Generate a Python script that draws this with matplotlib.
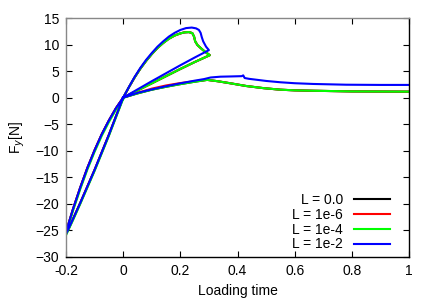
import numpy as np
import matplotlib
matplotlib.use("Agg")
import matplotlib.pyplot as plt

plt.rcParams['font.family'] = ['Liberation Sans', 'DejaVu Sans']

labels = ["L = 0.0", "L = 1e-6", "L = 1e-4", "L = 1e-2"]
colors = ["#000000", "#ff0000", "#00ff00", "#0000ff"]

# compression branches (shared shape)
comp1_x = [-0.2, -0.175, -0.15, -0.125, -0.1, -0.075, -0.05, -0.025, 0.0]
comp1_y = [-25.3, -20.9, -16.9, -13.2, -9.9, -6.9, -4.3, -1.96, 0.0]
comp2_x = [-0.2, -0.175, -0.15, -0.125, -0.1, -0.075, -0.05, -0.025, 0.0]
comp2_y = [-25.7, -22.8, -19.8, -16.7, -13.6, -10.3, -7.0, -3.5, 0.0]

# upper loop, L = 1e-2
loop_blue_x = [0.0, 0.02, 0.04, 0.06, 0.08, 0.10, 0.12, 0.14, 0.16, 0.18, 0.20, 0.22, 0.24,
               0.255, 0.265, 0.271, 0.275, 0.28, 0.29, 0.30,
               0.25, 0.2, 0.15, 0.1, 0.05, 0.0]
loop_blue_y = [0.0, 2.0, 3.9, 5.6, 7.1, 8.4, 9.6, 10.6, 11.5, 12.2, 12.75, 13.1, 13.2,
               13.05, 12.75, 12.2, 11.4, 10.6, 9.6, 8.95,
               7.55, 6.1, 4.6, 3.1, 1.55, 0.0]
# upper loop, L = 0.0 / 1e-6 / 1e-4
loop_green_x = [0.0, 0.02, 0.04, 0.06, 0.08, 0.10, 0.12, 0.14, 0.16, 0.18, 0.20, 0.215, 0.23,
                0.242, 0.248, 0.252, 0.26, 0.27, 0.285, 0.303,
                0.25, 0.2, 0.15, 0.1, 0.05, 0.0]
loop_green_y = [0.0, 1.95, 3.8, 5.45, 6.9, 8.2, 9.35, 10.3, 11.1, 11.7, 12.1, 12.3, 12.35,
                12.15, 11.5, 10.6, 9.9, 9.4, 8.7, 8.0,
                6.7, 5.4, 4.05, 2.7, 1.35, 0.0]

# lower branch
low_blue_x = [0.0, 0.05, 0.1, 0.143, 0.2, 0.25, 0.283, 0.306, 0.34, 0.38, 0.415, 0.42, 0.425,
              0.44, 0.5, 0.55, 0.6, 0.665, 0.78, 0.9, 1.0]
low_blue_y = [0.0, 0.9, 1.55, 2.07, 2.7, 3.2, 3.5, 3.8, 3.95, 4.0, 4.05, 4.2, 3.7,
              3.55, 3.15, 2.9, 2.72, 2.58, 2.44, 2.4, 2.4]
low_green_x = [0.0, 0.05, 0.1, 0.15, 0.2, 0.25, 0.294, 0.33, 0.376, 0.43, 0.49, 0.55, 0.6,
               0.666, 0.8, 1.0]
low_green_y = [0.0, 0.8, 1.5, 2.05, 2.55, 3.0, 3.35, 3.1, 2.7, 2.2, 1.8, 1.5, 1.38,
               1.3, 1.18, 1.13]
low_red_x = [0.0, 0.05, 0.1, 0.15, 0.2, 0.25, 0.294, 0.33, 0.376, 0.43, 0.49, 0.55, 0.6,
             0.666, 0.8, 1.0]
low_red_y = [0.0, 0.9, 1.7, 2.3, 2.75, 3.1, 3.35, 3.1, 2.7, 2.2, 1.8, 1.5, 1.38,
             1.3, 1.18, 1.13]

def join(*segs):
    xs, ys = [], []
    for sx, sy in segs:
        xs += list(sx) + [np.nan]
        ys += list(sy) + [np.nan]
    return xs, ys

series = [
    join((comp1_x, comp1_y), (comp2_x, comp2_y), (loop_green_x, loop_green_y), (low_green_x, low_green_y)),
    join((comp1_x, comp1_y), (comp2_x, comp2_y), (loop_green_x, loop_green_y), (low_red_x, low_red_y)),
    join((comp1_x, [v - 0.3 for v in comp1_y]), (comp2_x, [v - 0.2 for v in comp2_y]),
         (loop_green_x, loop_green_y), (low_green_x, low_green_y)),
    join((comp1_x, comp1_y), (comp2_x, comp2_y), (loop_blue_x, loop_blue_y), (low_blue_x, low_blue_y)),
]

fig = plt.figure(figsize=(4.36, 3.05), dpi=100)
ax = fig.add_axes([66/436, 1 - 257/305, (409 - 66)/436, (257 - 18)/305])

for (sx, sy), c, lab in zip(series, colors, labels):
    ax.plot(sx, sy, color=c, lw=1.5, label=lab)

ax.set_xlim(-0.2, 1.0)
ax.set_ylim(-30, 15)
ax.set_xticks([-0.2, 0, 0.2, 0.4, 0.6, 0.8, 1.0])
ax.set_xticklabels(["-0.2", "0", "0.2", "0.4", "0.6", "0.8", "1"])
ax.set_yticks(np.arange(-30, 16, 5))
ax.tick_params(direction='in', length=4, width=0.8, top=True, right=True, labelsize=10, pad=5,
               color='black')
for s in ['left', 'top']:
    ax.spines[s].set_color('#888888')
for s in ['bottom', 'right']:
    ax.spines[s].set_color('black')
for s in ax.spines.values():
    s.set_linewidth(1.0)

ax.set_xlabel("Loading time", fontsize=10, labelpad=4)
ax.set_ylabel("F$_y$[N]", fontsize=10, labelpad=6)

leg = ax.legend(loc='lower right', bbox_to_anchor=(0.961, 0.0), frameon=False, markerfirst=False,
                fontsize=10, handlelength=2.6, labelspacing=0.05, borderaxespad=0.0,
                handletextpad=0.8)

fig.savefig("out.png", dpi=100)
